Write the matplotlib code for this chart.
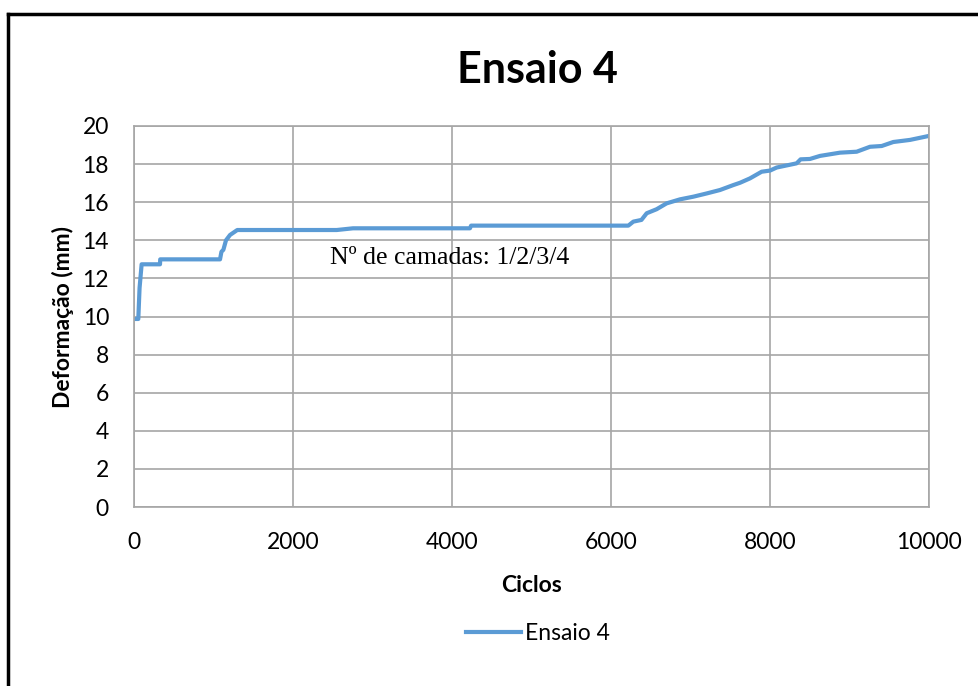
import matplotlib
matplotlib.use("Agg")
import matplotlib.pyplot as plt
from matplotlib.lines import Line2D

ciclos = [0, 54, 70, 96, 327, 330, 1082, 1100, 1124, 1157, 1208, 1299, 2550, 2755,
          4226, 4240, 6218, 6281, 6383, 6449, 6573, 6700, 6868, 7036, 7204, 7371,
          7539, 7623, 7748, 7895, 8000, 8084, 8335, 8385, 8503, 8629, 8880, 9090,
          9258, 9405, 9551, 9761, 10000]
deformacao = [9.87, 9.87, 11.5, 12.74, 12.74, 13.0, 13.0, 13.4, 13.5, 14.0, 14.28, 14.54, 14.54, 14.63,
              14.63, 14.77, 14.77, 14.98, 15.07, 15.42, 15.63, 15.94, 16.15, 16.29, 16.46, 16.64,
              16.9, 17.02, 17.25, 17.6, 17.66, 17.82, 18.04, 18.25, 18.27, 18.43, 18.6, 18.65,
              18.91, 18.95, 19.16, 19.27, 19.48]

xticks = [0, 2000, 4000, 6000, 8000, 10000]
yticks = list(range(0, 21, 2))

titulo = "Ensaio 4"
rotulo_x = "Ciclos"
rotulo_y = "Deformação (mm)"
anotacao = "Nº de camadas: 1/2/3/4"

plt.rcParams['font.family'] = ['Lato', 'DejaVu Sans']

fig = plt.figure(figsize=(9.79, 6.86), dpi=100)
ax = fig.add_axes([134/979, 1-507/686, (929-134)/979, (507-126)/686])

ax.plot(ciclos, deformacao, color='#5B9BD5', lw=3.0, label=titulo, solid_joinstyle='round')
ax.set_xlim(0, 10000)
ax.set_ylim(0, 20)
ax.set_xticks(xticks)
ax.set_yticks(yticks)
ax.grid(True, color='#A6A6A6', lw=1.2)
ax.set_axisbelow(True)
for s in ax.spines.values():
    s.set_color('#A6A6A6')
    s.set_linewidth(1.2)
ax.tick_params(length=0, labelsize=16.5, pad=18)

ax.set_xlabel(rotulo_x, fontsize=16.5, fontweight='bold', labelpad=16)
ax.set_ylabel(rotulo_y, fontsize=16.5, fontweight='bold', labelpad=6)

fig.text(537/979, 1-70/686, titulo, ha='center', va='center', fontsize=31, fontweight='bold')
fig.text(450/979, 1-258/686, anotacao, ha='center', va='center', fontsize=18.5,
         family='Liberation Serif')

leg = fig.legend(loc='center', bbox_to_anchor=(538/979, 1-634/686), frameon=False,
                 fontsize=16.5, handlelength=2.4, handletextpad=0.2)

fig.add_artist(Line2D([8/979, 1], [1-14/686, 1-14/686], color='black', lw=2.5,
                      transform=fig.transFigure))
fig.add_artist(Line2D([8/979, 8/979], [0, 1-14/686], color='black', lw=2.5,
                      transform=fig.transFigure))

fig.savefig('out.png', dpi=100)
